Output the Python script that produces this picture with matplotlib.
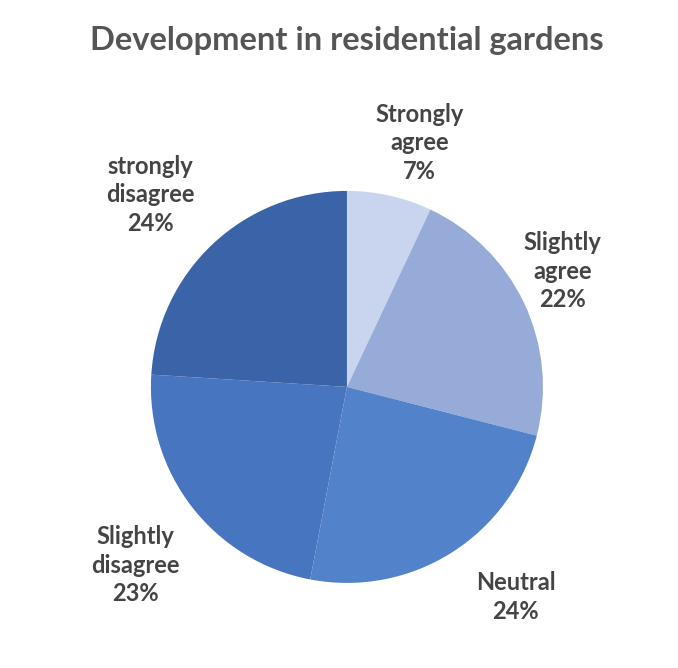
import matplotlib
matplotlib.use("Agg")
import matplotlib.pyplot as plt

# Survey responses
categories = ["Strongly\nagree", "Slightly\nagree", "Neutral", "Slightly\ndisagree", "strongly\ndisagree"]
values = [7, 22, 24, 23, 24]
colors = ["#c9d5ee", "#97abd9", "#5283ca", "#4775bf", "#3a63a8"]
title = "Development in residential gardens"

# label anchor points in pie-radius units
label_pos = [(0.37, 1.245), (1.10, 0.59), (0.86, -1.07), (-1.08, -0.91), (-1.005, 0.98)]

plt.rcParams["font.family"] = ["Lato", "DejaVu Sans"]

fig = plt.figure(figsize=(6.78, 6.68), dpi=100)
fig.patch.set_facecolor("white")
ax = fig.add_axes([0, 0, 1, 1])

ax.pie(values, colors=colors, startangle=90, counterclock=False, radius=1.0,
       wedgeprops=dict(linewidth=0))
ax.set_aspect("auto")
ax.set_xlim(-1.770, 1.689)
ax.set_ylim(-1.434, 1.974)
ax.axis("off")

for cat, val, (x, y) in zip(categories, values, label_pos):
    ax.text(x, y, f"{cat}\n{val}%", ha="center", va="center", fontsize=17,
            fontweight="bold", color="#444444", linespacing=1.3)

ax.text(0.512, 0.94, title, transform=fig.transFigure, ha="center", va="center",
        fontsize=23.5, fontweight="bold", color="#555555")

fig.savefig("out.png", dpi=100, facecolor="white")
